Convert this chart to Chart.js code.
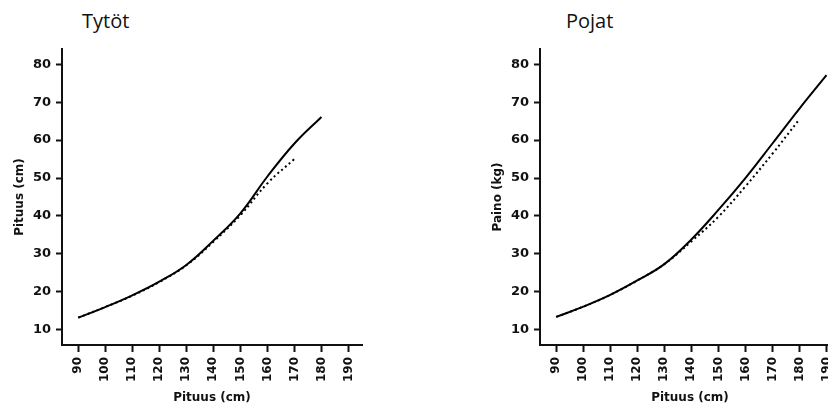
<!DOCTYPE html>
<html>
<head>
<meta charset="utf-8">
<script src="https://cdn.jsdelivr.net/npm/chart.js@4"></script>
<style>
    html, body { margin: 0; padding: 0; background: #fff; }
    body { width: 828px; height: 408px; position: relative; overflow: hidden; }
    .box { position: absolute; top: 0; width: 414px; height: 408px; }
    .title { position: absolute; top: 11px; font: 20px "Open Sans", sans-serif; line-height: 20px; color: #111; }
</style>
</head>
<body>
<div class="title" style="left: 82px;">Tytöt</div>
<div class="title" style="left: 566px;">Pojat</div>
<div class="box" style="left: 0;"><canvas id="girlsChart" width="414" height="408"></canvas></div>
<div class="box" style="left: 478px;"><canvas id="boysChart" width="414" height="408"></canvas></div>
<script>
// Heights (cm) on the x axis, weights (kg)
const heightsCm = [90, 100, 110, 120, 130, 140, 150, 160, 170, 180, 190];
const girlsSolid = [13.2, 16.0, 19.1, 22.7, 27.1, 33.5, 40.7, 50.4, 59.1, 66.1, null];
const girlsDotted = [13.2, 16.0, 19.0, 22.6, 27.0, 33.2, 40.2, 48.6, 55.0, null, null];
const boysSolid = [13.4, 16.1, 19.2, 23.0, 27.3, 33.8, 41.6, 50.0, 59.1, 68.3, 77.1];
const boysDotted = [13.4, 16.1, 19.2, 23.0, 27.3, 33.3, 39.8, 47.8, 56.4, 65.5, null];

const xTickLabels = [90, 100, 110, 120, 130, 140, 150, 160, 170, 180, 190];
const yTickLabels = [10, 20, 30, 40, 50, 60, 70, 80];

function toPoints(values) {
    return heightsCm
        .map((h, i) => ({ x: h, y: values[i] }))
        .filter(p => p.y !== null);
}

const xTickFont = { family: 'DejaVu Sans', weight: 'bold', size: 12 };
const yTickFont = { family: 'DejaVu Sans', weight: 'bold', size: 13 };
const axisTitleFont = { family: 'DejaVu Sans', weight: 'bold', size: 12 };

function makeChart(canvasId, solid, dotted, yTitle) {
    const ctx = document.getElementById(canvasId).getContext('2d');
    return new Chart(ctx, {
        type: 'line',
        data: {
            datasets: [
                {
                    label: 'dotted',
                    data: toPoints(dotted),
                    borderColor: '#000',
                    borderWidth: 2,
                    borderDash: [2, 3],
                    pointRadius: 0,
                    tension: 0.4,
                    fill: false
                },
                {
                    label: 'solid',
                    data: toPoints(solid),
                    borderColor: '#000',
                    borderWidth: 2,
                    pointRadius: 0,
                    tension: 0.4,
                    fill: false
                }
            ]
        },
        options: {
            responsive: false,
            animation: false,
            layout: { padding: { top: 49, right: 52, bottom: 0, left: 0 } },
            plugins: {
                legend: { display: false },
                tooltip: { enabled: false }
            },
            scales: {
                x: {
                    type: 'linear',
                    min: 84,
                    max: 195,
                    afterBuildTicks: scale => { scale.ticks = xTickLabels.map(v => ({ value: v })); },
                    afterFit: scale => { scale.height = 63; },
                    border: { display: true, color: '#111', width: 2 },
                    grid: { display: true, drawOnChartArea: false, drawTicks: true, tickLength: 7, tickColor: '#111', tickWidth: 2 },
                    ticks: { color: '#111', font: xTickFont, minRotation: 90, maxRotation: 90, padding: 5, autoSkip: false },
                    title: { display: true, text: 'Pituus (cm)', color: '#111', font: axisTitleFont, padding: { top: 0, bottom: 3 } }
                },
                y: {
                    type: 'linear',
                    min: 6,
                    max: 84,
                    afterBuildTicks: scale => { scale.ticks = yTickLabels.map(v => ({ value: v })); },
                    afterFit: scale => { scale.width = 62; },
                    border: { display: true, color: '#111', width: 2 },
                    grid: { display: true, drawOnChartArea: false, drawTicks: true, tickLength: 6, tickColor: '#111', tickWidth: 2 },
                    ticks: { color: '#111', font: yTickFont, padding: 5 },
                    title: { display: true, text: yTitle, color: '#111', font: axisTitleFont, padding: { top: 13, bottom: 0 } }
                }
            }
        }
    });
}

makeChart('girlsChart', girlsSolid, girlsDotted, 'Pituus (cm)');
makeChart('boysChart', boysSolid, boysDotted, 'Paino (kg)');
</script>
</body>
</html>
